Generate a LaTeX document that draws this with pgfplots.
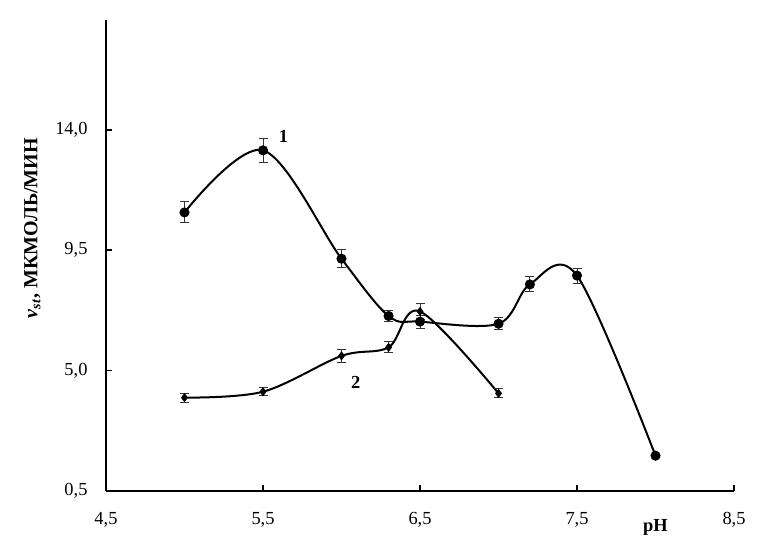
\documentclass[border=0pt]{standalone}
\usepackage{pgfplots}
\pgfplotsset{compat=1.18}
\usepackage{fontspec}
\setmainfont{Liberation Serif}

\begin{document}
\fontsize{9.2}{11}\selectfont
\begin{tikzpicture}
    \begin{axis}[
        name=ax,
        scale only axis,
        width=314pt,
        height=235.5pt,
        axis lines=left,
        axis line style={-, line width=1pt},
        tick align=inside,
        major tick length=3pt,
        tick style={line width=0.8pt, black},
        xmin=4.5, xmax=8.5,
        ymin=0.5, ymax=18.1,
        xtick={4.5,5.5,6.5,7.5,8.5},
        ytick={0.5,5,9.5,14},
        /pgf/number format/.cd, use comma, fixed, fixed zerofill, precision=1, assume math mode=true,
        /pgfplots/.cd,
        xticklabel style={yshift=-7.5pt},
        yticklabel style={xshift=-6pt},
        ylabel={\fontsize{10}{12}\selectfont\textbf{\textit{v}\textsubscript{\textit{st}}, МКМОЛЬ/МИН}},
        every axis y label/.style={at={(ticklabel cs:0.558)}, rotate=90, anchor=south, yshift=1pt},
        clip=false,
        error bars/y dir=both,
        error bars/y explicit,
        error bars/error mark=-,
        error bars/error mark options={rotate=90, mark size=2.25pt, line width=0.5pt, black!80},
        error bars/error bar style={line width=0.5pt, black!80},
    ]
        % 1
        \addplot[black, line width=1pt, smooth, tension=0.55,
                 mark=*, mark size=2pt, mark options={fill=black}]
            coordinates {
                (5.0,10.91) +- (0,0.39)
                (5.5,13.23) +- (0,0.45)
                (6.0,9.18)  +- (0,0.33)
                (6.3,7.04)  +- (0,0.22)
                (6.5,6.83)  +- (0,0.24)
                (7.0,6.75)  +- (0,0.22)
                (7.2,8.22)  +- (0,0.28)
                (7.5,8.55)  +- (0,0.28)
                (8.0,1.82)  +- (0,0.05)
            };
        % 2
        \addplot[black, line width=1pt, smooth, tension=0.55,
                 mark=diamond*, mark size=1.5pt, mark options={fill=black}]
            coordinates {
                (5.0,3.99) +- (0,0.17)
                (5.5,4.21) +- (0,0.15)
                (6.0,5.55) +- (0,0.23)
                (6.3,5.87) +- (0,0.20)
                (6.5,7.21) +- (0,0.31)
                (7.0,4.15) +- (0,0.17)
            };
        \node[font=\bfseries] at (axis cs:5.63,13.74) {1};
        \node[font=\bfseries] at (axis cs:6.09,4.54) {2};
        \node[font=\bfseries, anchor=north, yshift=-10.8pt] at (axis cs:8.0,0.5) {pH};
    \end{axis}
    \path[use as bounding box] ([xshift=-53pt,yshift=-19.5pt]ax.south west)
        rectangle ([xshift=14.5pt,yshift=10pt]ax.north east);
\end{tikzpicture}
\end{document}
